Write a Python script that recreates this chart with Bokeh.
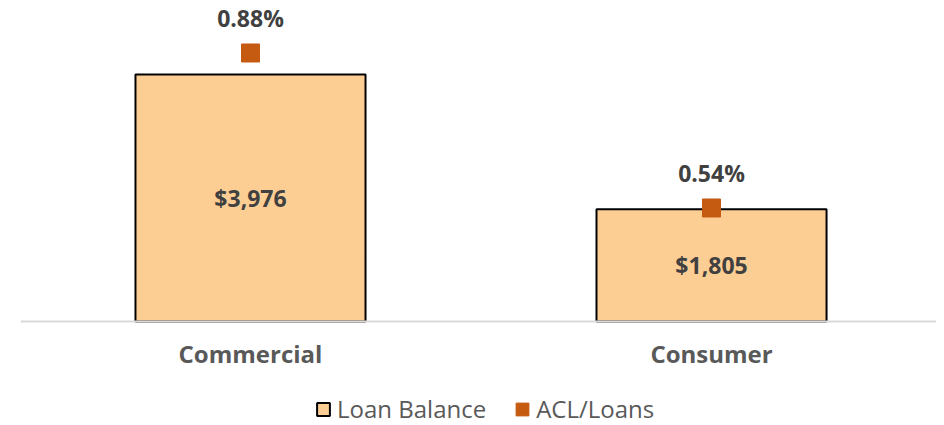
from bokeh.plotting import figure
from bokeh.models import Range1d, Legend, LegendItem, ColumnDataSource, FixedTicker
from bokeh.core.properties import value
from bokeh.embed import file_html
from bokeh.resources import INLINE

categories = ["Commercial", "Consumer"]
loan_balance = [3976, 1805]
acl_loans = [0.88, 0.54]
balance_labels = ["$3,976", "$1,805"]
pct_labels = ["0.88%", "0.54%"]
series_names = ["Loan Balance", "ACL/Loans"]

xs = list(range(len(categories)))
src = ColumnDataSource(dict(
    x=xs, bal=loan_balance, mid=[v / 2 for v in loan_balance], acl=acl_loans,
    bl=balance_labels, pl=pct_labels))

p = figure(frame_width=916, frame_height=416, output_backend="svg", toolbar_location=None,
           x_range=Range1d(-0.4989, 1.488), y_range=Range1d(-1658, 5038),
           min_border_left=20, min_border_right=0, min_border_top=8, min_border_bottom=0)
p.extra_y_ranges = {"pct": Range1d(0.0651, 0.9776)}
p.outline_line_color = None
p.grid.visible = False
p.yaxis.visible = False

bars = p.vbar(x="x", top="bal", width=0.499, source=src, fill_color="#FDCE94",
              line_color="black", line_width=2)
p.text(x="x", y="mid", text="bl", source=src, text_align="center", text_baseline="middle",
       text_font=value("Open Sans"), text_font_style="bold", text_font_size="23px",
       text_color="#404040")
marks = p.scatter(x="x", y="acl", source=src, marker="square", size=18, fill_color="#C55A11",
                  line_color="#C55A11", y_range_name="pct")
# zero-size bar hidden under each marker: gives the legend a full-size square swatch
swatch = p.vbar(x="x", top="acl", bottom="acl", width=0.001, source=src, y_range_name="pct",
                fill_color="#C55A11", line_color="#C55A11")
p.text(x="x", y="acl", text="pl", source=src, text_align="center", text_baseline="middle",
       y_offset=-35, y_range_name="pct",
       text_font=value("Open Sans"), text_font_style="bold", text_font_size="23px",
       text_color="#404040")

ax = p.xaxis[0]
ax.fixed_location = 0
ax.ticker = FixedTicker(ticks=xs)
ax.major_label_overrides = {i: c for i, c in zip(xs, categories)}
ax.major_tick_line_color = None
ax.minor_tick_line_color = None
ax.axis_line_color = "#D9D9D9"
ax.axis_line_width = 2
ax.major_label_standoff = 10
ax.major_label_text_font = "Open Sans"
ax.major_label_text_font_style = "bold"
ax.major_label_text_font_size = "24px"
ax.major_label_text_color = "#595959"

legend = Legend(items=[LegendItem(label=series_names[0], renderers=[bars]),
                       LegendItem(label=series_names[1], renderers=[swatch])],
                orientation="horizontal", location=(295, -1),
                label_text_font="Open Sans", label_text_font_size="24px",
                label_text_color="#595959", glyph_width=16, glyph_height=16,
                label_standoff=6, spacing=28, border_line_color=None,
                background_fill_alpha=0, margin=0, padding=0)
p.add_layout(legend, "center")

open("out.html", "w").write(file_html(p, INLINE))
